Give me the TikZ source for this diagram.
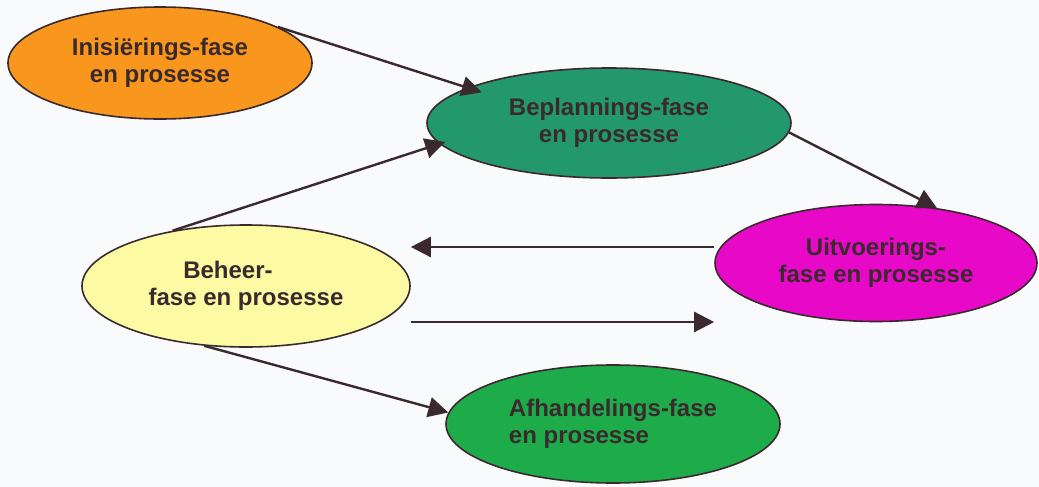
\documentclass[tikz,border=0pt]{standalone}
\usepackage{fontspec}
\setmainfont{Liberation Sans}
\usetikzlibrary{shapes.geometric,arrows.meta}
\definecolor{paper}{RGB}{248,250,251}
\definecolor{ink}{RGB}{58,42,46}
\definecolor{fillorange}{RGB}{248,150,30}
\definecolor{fillteal}{RGB}{34,152,108}
\definecolor{fillmagenta}{RGB}{232,8,200}
\definecolor{fillyellow}{RGB}{252,250,162}
\definecolor{fillgreen}{RGB}{30,172,74}
\tikzset{
  phase/.style={ellipse, draw=ink, line width=0.8pt, inner sep=0pt,
    align=center, text=ink, font=\bfseries\fontsize{12}{13.5}\selectfont},
  flow/.style={draw=ink, line width=1.2pt,
    -{Triangle[length=10pt,width=10pt]}}
}
\begin{document}
\begin{tikzpicture}[x=0.5pt,y=-0.5pt]
  \fill[paper] (0,0) rectangle (1039,487);
  \useasboundingbox (0,0) rectangle (1039,487);

  % phases
  \node[phase, fill=fillorange, minimum width=152pt, minimum height=56pt]
    (ini) at (160,63) {Inisiërings-fase\\en prosesse};
  \node[phase, fill=fillteal, minimum width=182pt, minimum height=55pt]
    (bep) at (609,123) {Beplannings-fase\\en prosesse};
  \node[phase, fill=fillmagenta, minimum width=161pt, minimum height=58.5pt]
    (uit) at (876,263) {Uitvoerings-\\fase en prosesse};
  \node[phase, fill=fillyellow, minimum width=164pt, minimum height=61pt]
    (beh) at (246,286) {Beheer-\hspace*{18pt}\\fase en prosesse};
  \node[phase, fill=fillgreen, minimum width=167pt, minimum height=59pt, align=left]
    (afh) at (613,424) {Afhandelings-fase\\en prosesse};

  % transitions between phases
  \draw[flow, shorten >=-7.5pt] (ini.17) -- (bep.166);
  \draw[flow, shorten >=-3pt] (beh.143) -- (bep.187);
  \draw[flow] (bep.-3) -- (uit.42);
  \draw[flow] (uit.west |- 0,247) -- (beh.east |- 0,247);
  \draw[flow] (beh.east |- 0,322) -- (uit.west |- 0,322);
  \draw[flow] (beh.235) -- (afh.176);
\end{tikzpicture}
\end{document}
